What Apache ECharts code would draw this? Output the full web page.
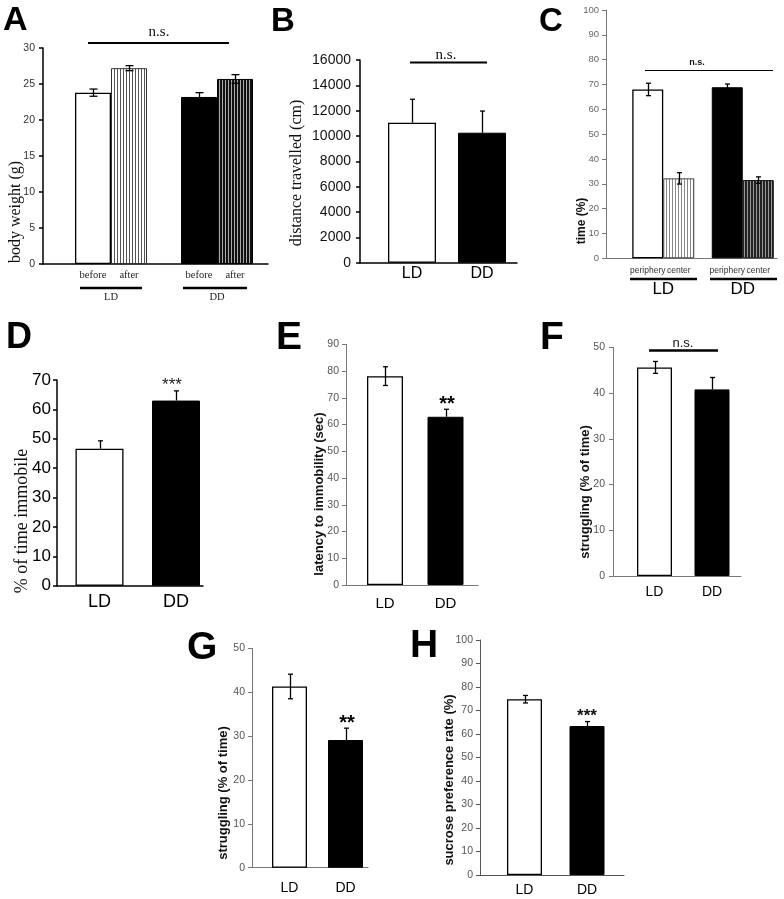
<!DOCTYPE html>
<html><head><meta charset="utf-8">
<script src="https://cdn.jsdelivr.net/npm/echarts@6/dist/echarts.min.js"></script>
<style>html,body{margin:0;padding:0;background:#fff}#c{width:784px;height:899px}</style>
</head><body><div id="c"></div>
<script>
// ---------- data ----------
const groups = ['LD', 'DD'];
// A body weight (g)
const aBefore = [23.8, 23.2];
const aBeforeErr = [0.5, 0.6];
const aAfter = [27.2, 25.7];
const aAfterErr = [0.35, 0.6];
// B distance travelled (cm)
const bDistance = [11050, 10260];
const bDistanceErr = [1850, 1710];
// C time (%)
const cPeriphery = [68.0, 68.9];
const cPeripheryErr = [2.5, 1.3];
const cCenter = [32.2, 31.5];
const cCenterErr = [2.3, 1.3];
// D % of time immobile
const dImmobile = [46.6, 63.0];
const dImmobileErr = [2.7, 3.3];
// E latency to immobility (sec)
const eLatency = [78.1, 62.9];
const eLatencyErr = [3.5, 2.8];
// F struggling (% of time)
const fStruggling = [45.6, 40.8];
const fStrugglingErr = [1.3, 2.6];
// G struggling (% of time)
const gStruggling = [41.3, 29.1];
const gStrugglingErr = [2.8, 2.7];
// H sucrose preference rate (%)
const hSucrose = [74.8, 63.4];
const hSucroseErr = [1.6, 1.9];

// ---------- styling ----------
const SANS = '"Liberation Sans", Arial, sans-serif';
const SERIF = '"Liberation Serif", "Times New Roman", serif';

function stripes(bg, fg) {
  const c = document.createElement('canvas');
  c.width = 3; c.height = 4;
  const ctx = c.getContext('2d');
  ctx.fillStyle = bg; ctx.fillRect(0, 0, 3, 4);
  ctx.fillStyle = fg; ctx.fillRect(0, 0, 1, 4);
  return { image: c, repeat: 'repeat' };
}
const WHITE = { color: '#fff', borderColor: '#000', borderWidth: 1.3 };
const BLACK = { color: '#000', borderColor: '#000', borderWidth: 1 };
const LIGHT_STRIPE = { color: stripes('#fff', '#555'), borderColor: '#333', borderWidth: 1 };
const DARK_STRIPE = { color: stripes('#111', '#aaa'), borderColor: '#000', borderWidth: 1 };
const LIGHT_STRIPE_C = { color: stripes('#fff', '#888'), borderColor: '#444', borderWidth: 1 };
const DARK_STRIPE_C = { color: stripes('#222', '#999'), borderColor: '#111', borderWidth: 1 };

const panels = [
  { frame: [43, 48, 225, 216], dataBox: [58, 212], max: 30, step: 5, axisColor: '#000', axisW: 1.5,
    tick: { size: 10.5, color: '#333', margin: 8, font: SANS },
    cat: { size: 10.5, color: '#222', margin: 28, font: SERIF }, barWidth: 36,
    series: [
      { values: aBefore, err: aBeforeErr, two: [1, 1], styles: [WHITE, BLACK], label: 'before', offset: -18 },
      { values: aAfter, err: aAfterErr, two: [1, 1], styles: [LIGHT_STRIPE, DARK_STRIPE], label: 'after', offset: 18 }
    ], labelFont: { size: 10.5, color: '#222', font: SERIF, dist: 6 }, cap: 4 },
  { frame: [360, 60, 157, 202.7], dataBox: [377, 140], max: 16000, step: 2000, axisColor: '#000', axisW: 1.5,
    tick: { size: 14, color: '#111', margin: 9, font: SANS },
    cat: { size: 16, color: '#000', margin: 3, font: SANS }, barWidth: 48,
    series: [{ values: bDistance, err: bDistanceErr, two: [0, 0], styles: [WHITE, BLACK], offset: 0 }], cap: 2.5 },
  { frame: [606, 10, 171, 248.3], dataBox: [623.5, 159], max: 100, step: 10, axisColor: '#777', axisW: 1,
    tick: { size: 9.5, color: '#666', margin: 7, font: SANS },
    cat: { size: 17, color: '#000', margin: 23, font: SANS }, barWidth: 31,
    series: [
      { values: cPeriphery, err: cPeripheryErr, two: [1, 1], styles: [WHITE, BLACK], label: 'periphery', offset: -15.5 },
      { values: cCenter, err: cCenterErr, two: [1, 1], styles: [LIGHT_STRIPE_C, DARK_STRIPE_C], label: 'center', offset: 15.5 }
    ], labelFont: { size: 8.5, color: '#333', font: SANS, dist: 8 }, cap: 2.5 },
  { frame: [57, 380, 146, 205.7], dataBox: [61.25, 153], max: 70, step: 10, axisColor: '#000', axisW: 1.5,
    tick: { size: 17, color: '#000', margin: 6, font: SANS },
    cat: { size: 18, color: '#000', margin: 7, font: SANS }, barWidth: 48,
    series: [{ values: dImmobile, err: dImmobileErr, two: [0, 0], styles: [WHITE, BLACK], offset: 0 }], cap: 2.5 },
  { frame: [346, 344.3, 132, 240.7], dataBox: [354.75, 121], max: 90, step: 10, axisColor: '#777', axisW: 1,
    tick: { size: 10.5, color: '#555', margin: 7, font: SANS },
    cat: { size: 15, color: '#000', margin: 11, font: SANS }, barWidth: 36,
    series: [{ values: eLatency, err: eLatencyErr, two: [1, 0], styles: [WHITE, BLACK], offset: 0 }], cap: 2.5 },
  { frame: [613, 347.3, 128, 228.7], dataBox: [625.75, 115], max: 50, step: 10, axisColor: '#777', axisW: 1,
    tick: { size: 10.5, color: '#555', margin: 8, font: SANS },
    cat: { size: 14, color: '#000', margin: 9, font: SANS }, barWidth: 35,
    series: [{ values: fStruggling, err: fStrugglingErr, two: [1, 0], styles: [WHITE, BLACK], offset: 0 }], cap: 2.5 },
  { frame: [252, 648.3, 116, 219.4], dataBox: [261.5, 112], max: 50, step: 10, axisColor: '#777', axisW: 1,
    tick: { size: 10.5, color: '#555', margin: 7, font: SANS },
    cat: { size: 14, color: '#000', margin: 13, font: SANS }, barWidth: 35,
    series: [{ values: gStruggling, err: gStrugglingErr, two: [1, 0], styles: [WHITE, BLACK], offset: 0 }], cap: 2.5 },
  { frame: [480, 640, 144, 235], dataBox: [493.25, 125], max: 100, step: 10, axisColor: '#555', axisW: 1,
    tick: { size: 10.5, color: '#555', margin: 7, font: SANS },
    cat: { size: 14, color: '#000', margin: 8.5, font: SANS }, barWidth: 35,
    series: [{ values: hSucrose, err: hSucroseErr, two: [1, 0], styles: [WHITE, BLACK], offset: 0 }], cap: 2.5 }
];

function errRender(offset, cap) {
  return function (params, api) {
    const i = api.value(0), v = api.value(1), e = api.value(2), two = api.value(3);
    const top = api.coord([i, v + e]);
    const mid = api.coord([i, v]);
    const bot = two ? api.coord([i, v - e]) : mid;
    const x = Math.round(top[0] + offset) + 0.5;
    const st = { stroke: '#000', lineWidth: 1.3 };
    const ch = [
      { type: 'line', shape: { x1: x, y1: top[1], x2: x, y2: bot[1] }, style: st },
      { type: 'line', shape: { x1: x - cap, y1: top[1], x2: x + cap, y2: top[1] }, style: st }
    ];
    if (two) ch.push({ type: 'line', shape: { x1: x - cap, y1: bot[1], x2: x + cap, y2: bot[1] }, style: st });
    return { type: 'group', children: ch };
  };
}

const grid = [], xAxis = [], yAxis = [], series = [];
panels.forEach((p, k) => {
  const gf = grid.length;
  grid.push({ left: p.frame[0], top: p.frame[1], width: p.frame[2], height: p.frame[3] });
  grid.push({ left: p.dataBox[0], top: p.frame[1], width: p.dataBox[1], height: p.frame[3] });
  const ls = { color: p.axisColor, width: p.axisW };
  // frame axes (visible)
  xAxis.push({ gridIndex: gf, type: 'value', min: 0, max: 1, axisLine: { show: true, onZero: false, lineStyle: ls },
    axisTick: { show: false }, axisLabel: { show: false }, splitLine: { show: false } });
  yAxis.push({ gridIndex: gf, type: 'value', min: 0, max: p.max, interval: p.step,
    axisLine: { show: true, lineStyle: ls }, axisTick: { show: true, length: 4, lineStyle: ls },
    axisLabel: { fontSize: p.tick.size, color: p.tick.color, margin: p.tick.margin, fontFamily: p.tick.font,
      formatter: v => String(v) },
    splitLine: { show: false } });
  // data axes
  const xi = xAxis.length, yi = yAxis.length;
  xAxis.push({ gridIndex: gf + 1, type: 'category', data: groups, axisLine: { show: false }, axisTick: { show: false },
    axisLabel: { fontSize: p.cat.size, color: p.cat.color, margin: p.cat.margin, fontFamily: p.cat.font } });
  yAxis.push({ gridIndex: gf + 1, type: 'value', min: 0, max: p.max, show: false });
  p.series.forEach(s => {
    const bar = {
      type: 'bar', xAxisIndex: xi, yAxisIndex: yi, barWidth: p.barWidth, barGap: '0%',
      data: s.values.map((v, i) => ({ value: v, itemStyle: s.styles[i] })),
      silent: true, animation: false, z: 2
    };
    if (s.label) {
      bar.label = { show: true, position: 'bottom', distance: p.labelFont.dist, formatter: s.label,
        fontSize: p.labelFont.size, color: p.labelFont.color, fontFamily: p.labelFont.font };
    }
    series.push(bar);
    series.push({
      type: 'custom', xAxisIndex: xi, yAxisIndex: yi, renderItem: errRender(s.offset, p.cap),
      data: s.values.map((v, i) => [i, v, s.err[i], s.two[i]]), silent: true, animation: false, z: 5
    });
  });
});

// ---------- annotations ----------
const graphic = [];
function T(text, x, y, font, fill, align, rot) {
  graphic.push({ type: 'text', x, y, rotation: rot || 0, silent: true,
    style: { text, font, fill: fill || '#000', align: align || 'center', verticalAlign: 'middle',
      textAlign: align || 'center', textVerticalAlign: 'middle' } });
}
function L(x1, y1, x2, y2, w, c) {
  graphic.push({ type: 'line', silent: true, shape: { x1, y1, x2, y2 }, style: { stroke: c || '#000', lineWidth: w } });
}
const R = Math.PI / 2;
// panel letters
T('A', 3, 21, 'bold 34px ' + SANS, '#000', 'left');
T('B', 271, 22, 'bold 33px ' + SANS, '#000', 'left');
T('C', 539, 22, 'bold 33px ' + SANS, '#000', 'left');
T('D', 6, 338, 'bold 36px ' + SANS, '#000', 'left');
T('E', 276, 338, 'bold 39px ' + SANS, '#000', 'left');
T('F', 540, 338, 'bold 39px ' + SANS, '#000', 'left');
T('G', 187, 648, 'bold 39px ' + SANS, '#000', 'left');
T('H', 410, 646, 'bold 39px ' + SANS, '#000', 'left');
// y axis titles
T('body weight (g)', 16, 212, '16px ' + SERIF, '#111', 'center', R);
T('distance travelled (cm)', 297, 173, '16px ' + SERIF, '#111', 'center', R);
T('time (%)', 582, 221, 'bold 12px ' + SANS, '#111', 'center', R);
T('% of time immobile', 22, 521, '18px ' + SERIF, '#111', 'center', R);
T('latency to immobility (sec)', 319, 494, 'bold 13px ' + SANS, '#111', 'center', R);
T('struggling (% of time)', 585, 492, 'bold 13px ' + SANS, '#111', 'center', R);
T('struggling (% of time)', 223, 793, 'bold 13px ' + SANS, '#111', 'center', R);
T('sucrose preference rate (%)', 449, 780, 'bold 13px ' + SANS, '#111', 'center', R);
// significance
T('n.s.', 159, 32, '15px ' + SERIF, '#111');
L(88, 43, 229, 43, 2);
T('n.s.', 446, 55, '15px ' + SERIF, '#111');
L(410, 62.5, 487, 62.5, 2);
T('n.s.', 697, 63, 'bold 9px ' + SANS, '#111');
L(645, 70.5, 773, 70.5, 1);
T('n.s.', 683, 343, '13px ' + SANS, '#111');
L(649, 350.5, 718, 350.5, 2.5);
T('***', 172, 385, '17px ' + SANS, '#222');
T('**', 447, 404, 'bold 20px ' + SANS, '#000');
T('**', 347, 723, 'bold 20px ' + SANS, '#000');
T('***', 587, 716, 'bold 17px ' + SANS, '#111');
// group underlines
L(80, 288, 142, 288, 2.5);
L(183, 288, 247, 288, 2.5);
L(630, 279, 697, 279, 2.5);
L(710, 279, 777, 279, 2.5);

const chart = echarts.init(document.getElementById('c'), null, { renderer: 'canvas' });
chart.setOption({ animation: false, backgroundColor: '#fff', grid, xAxis, yAxis, series, graphic });
</script>
</body></html>
